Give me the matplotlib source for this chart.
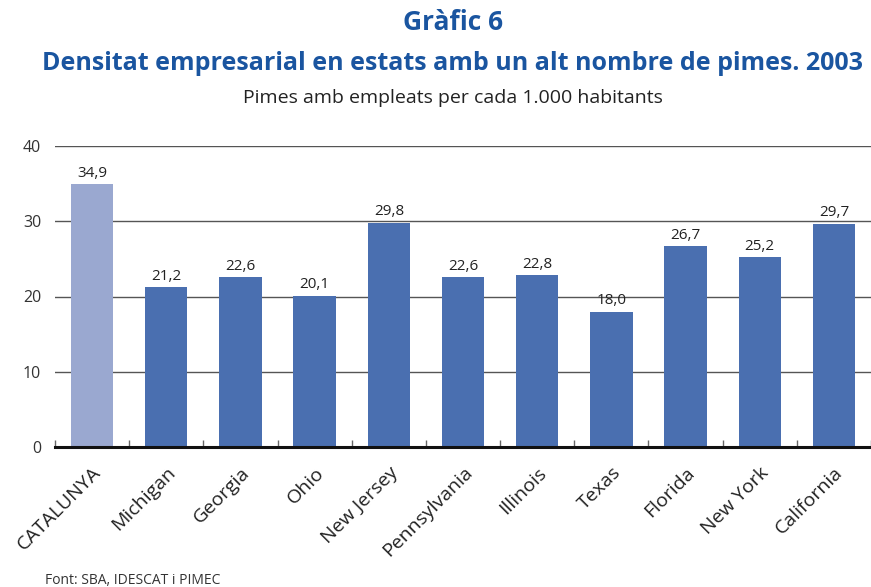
import matplotlib
matplotlib.use("Agg")
import matplotlib.pyplot as plt
import numpy as np

categories = ["CATALUNYA", "Michigan", "Georgia", "Ohio", "New Jersey", "Pennsylvania",
              "Illinois", "Texas", "Florida", "New York", "California"]
values = [34.9, 21.2, 22.6, 20.1, 29.8, 22.6, 22.8, 18.0, 26.7, 25.2, 29.7]
yticks = [0, 10, 20, 30, 40]

plt.rcParams['font.family'] = ['Open Sans', 'DejaVu Sans']

fig = plt.figure(figsize=(8.71, 5.87), dpi=100)
ax = fig.add_axes([55/871, 1-447/587, 816/871, (447-146)/587])

x = np.arange(len(categories))
colors = ["#9aa8d0"] + ["#4a6fb0"] * (len(categories) - 1)
bars = ax.bar(x, values, width=0.57, color=colors, zorder=3)

for xi, v in zip(x, values):
    ax.text(xi, v + 0.45, f"{v:.1f}".replace(".", ","), ha="center", va="bottom",
            fontsize=11, color="#222222", zorder=4)

ax.set_xlim(-0.5, len(categories) - 0.5)
ax.set_ylim(0, 40)
ax.set_yticks(yticks)
ax.set_yticklabels([str(t) for t in yticks], fontsize=11.5, color="#333333")
ax.yaxis.grid(True, color="#555555", linewidth=1.0, zorder=0)
ax.tick_params(axis="y", length=0, pad=10)

ax.set_xticks(x)
ax.set_xticklabels(categories, rotation=45, ha="right", rotation_mode="anchor",
                   fontsize=14, color="#222222")
ax.tick_params(axis="x", which="major", length=0, pad=12)
ax.set_xticks(np.arange(-0.5, len(categories), 1.0), minor=True)
ax.tick_params(axis="x", which="minor", direction="in", length=5, width=1, color="#666666")

for s in ["top", "right", "left"]:
    ax.spines[s].set_visible(False)
ax.spines["bottom"].set_linewidth(2.2)
ax.spines["bottom"].set_color("#111111")
ax.spines["bottom"].set_zorder(5)

title_color = "#1a55a0"
fig.text(0.52, 1-23/587, "Gràfic 6", ha="center", va="center", fontsize=19,
         fontweight="bold", color=title_color)
fig.text(0.52, 1-63/587, "Densitat empresarial en estats amb un alt nombre de pimes. 2003",
         ha="center", va="center", fontsize=18, fontweight="bold", color=title_color)
fig.text(0.52, 1-98/587, "Pimes amb empleats per cada 1.000 habitants", ha="center",
         va="center", fontsize=14, color="#222222")
fig.text(45/871, 1-580/587, "Font: SBA, IDESCAT i PIMEC", ha="left", va="center",
         fontsize=10, color="#333333")

fig.savefig("out.png", dpi=100)
